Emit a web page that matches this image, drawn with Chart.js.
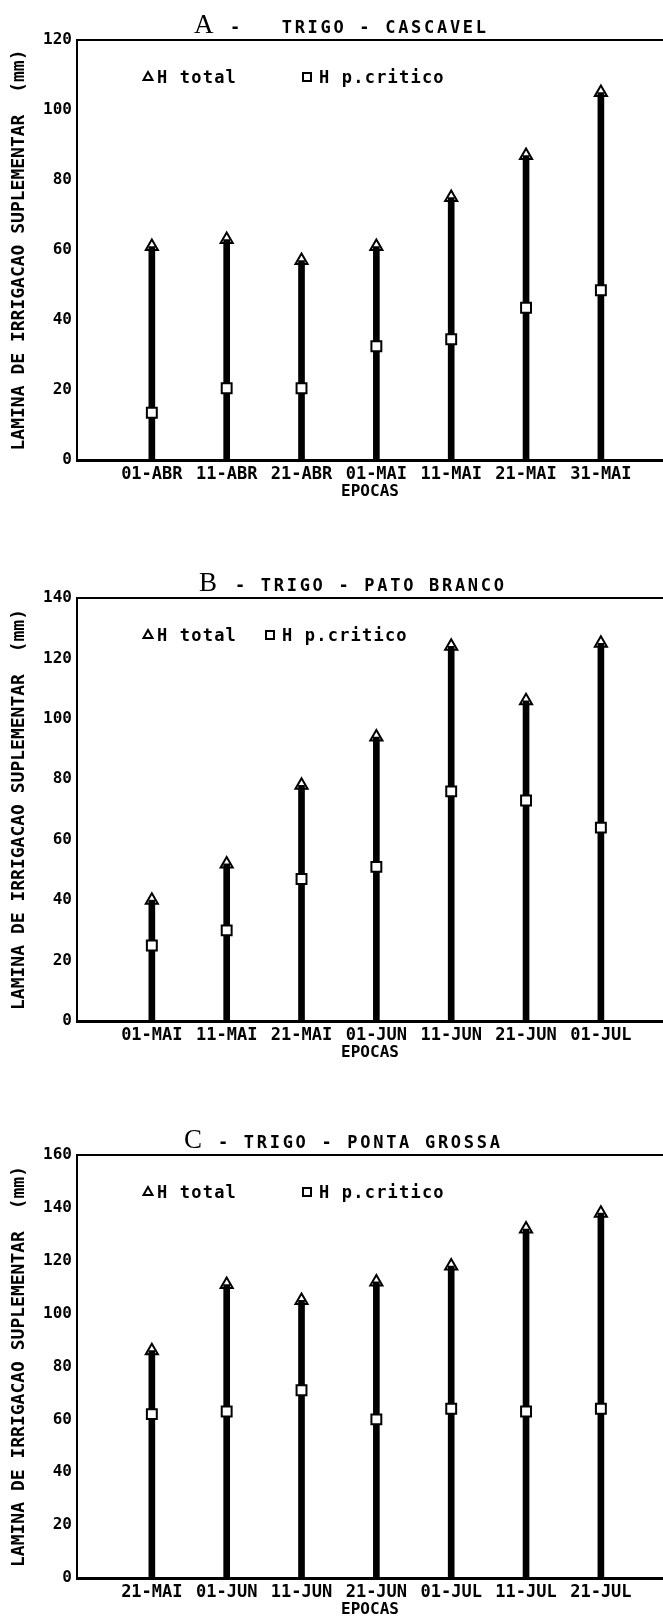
<!DOCTYPE html>
<html>
<head>
<meta charset="utf-8">
<script src="https://cdn.jsdelivr.net/npm/chart.js@4.4.0/dist/chart.umd.min.js"></script>
<style>
  body { margin: 0; background: #fff; }
  .panel { position: absolute; left: 0; width: 663px; }
</style>
</head>
<body>
<div class="panel" style="top:0"><canvas id="chartA" width="663" height="501"></canvas></div>
<div class="panel" style="top:558px"><canvas id="chartB" width="663" height="504"></canvas></div>
<div class="panel" style="top:1115px"><canvas id="chartC" width="663" height="504"></canvas></div>
<script>
// data
const seriesNames = ['H total', 'H p.critico'];

const epocasA = ['01-ABR', '11-ABR', '21-ABR', '01-MAI', '11-MAI', '21-MAI', '31-MAI'];
const totalA = [61, 63, 57, 61, 75, 87, 105];
const criticoA = [13.5, 20.5, 20.5, 32.5, 34.5, 43.5, 48.5];

const epocasB = ['01-MAI', '11-MAI', '21-MAI', '01-JUN', '11-JUN', '21-JUN', '01-JUL'];
const totalB = [40, 52, 78, 94, 124, 106, 125];
const criticoB = [25, 30, 47, 51, 76, 73, 64];

const epocasC = ['21-MAI', '01-JUN', '11-JUN', '21-JUN', '01-JUL', '11-JUL', '21-JUL'];
const totalC = [86, 111, 105, 112, 118, 132, 138];
const criticoC = [62, 63, 71, 60, 64, 63, 64];

const yMaxA = 120, yMaxB = 140, yMaxC = 160;
const yStep = 20;

const MONO = '"DejaVu Sans Mono", monospace';

// title, top frame line and the in-plot legend
const decor = {
    id: 'decor',
    afterDraw(chart, args, o) {
        const { ctx, chartArea: a } = chart;
        ctx.save();
        ctx.strokeStyle = '#000';
        ctx.lineWidth = 2;
        ctx.beginPath();
        ctx.moveTo(a.left, a.top);
        ctx.lineTo(chart.width, a.top);
        ctx.stroke();

        ctx.fillStyle = '#000';
        ctx.textBaseline = 'alphabetic';
        ctx.font = '27px "Liberation Serif", serif';
        ctx.fillText(o.letter, o.letterX, 33);
        ctx.font = 'bold 17px ' + MONO;
        ctx.letterSpacing = '2.7px';
        ctx.fillText(o.rest, o.restX, 33);

        // legend
        const ly = a.top + 37;
        ctx.lineWidth = 2;
        ctx.beginPath();
        ctx.moveTo(148, ly - 5);
        ctx.lineTo(152.5, ly + 3);
        ctx.lineTo(143.5, ly + 3);
        ctx.closePath();
        ctx.stroke();
        ctx.strokeRect(o.sqX - 4, ly - 4, 8, 8);
        ctx.letterSpacing = '1.2px';
        ctx.fillText(seriesNames[0], 157, ly + 6);
        ctx.fillText(seriesNames[1], o.sqX + 12, ly + 6);
        ctx.restore();
    }
};

function makeChart(id, labels, total, critico, yMax, deco) {
    const pts = arr => arr.map((v, i) => ({ x: i + 1, y: v }));
    return new Chart(document.getElementById(id), {
        type: 'bar',
        data: {
            datasets: [
                {
                    type: 'scatter',
                    label: seriesNames[1],
                    data: pts(critico),
                    pointStyle: 'rect',
                    pointRadius: 7,
                    pointBorderWidth: 2,
                    borderColor: '#000',
                    backgroundColor: '#fff',
                    order: 0
                },
                {
                    type: 'scatter',
                    label: seriesNames[0],
                    data: pts(total),
                    pointStyle: 'triangle',
                    pointRadius: 7,
                    pointBorderWidth: 2,
                    borderColor: '#000',
                    backgroundColor: 'rgba(0,0,0,0)',
                    order: 1
                },
                {
                    type: 'bar',
                    label: seriesNames[0],
                    data: pts(total),
                    backgroundColor: '#000',
                    barThickness: 6,
                    order: 2
                }
            ]
        },
        options: {
            responsive: false,
            animation: false,
            layout: { autoPadding: false, padding: { top: 40, left: 0, right: 0, bottom: 0 } },
            plugins: {
                legend: { display: false },
                tooltip: { enabled: false },
                decor: deco
            },
            scales: {
                x: {
                    type: 'linear',
                    offset: false,
                    min: 0,
                    max: 7.83,
                    afterBuildTicks: s => { s.ticks = labels.map((_, i) => ({ value: i + 1 })); },
                    afterFit: s => { s.height = 41; },
                    grid: { display: false, drawTicks: false },
                    border: { display: true, color: '#000', width: 3 },
                    ticks: {
                        autoSkip: false,
                        maxRotation: 0,
                        padding: 4,
                        color: '#000',
                        font: { family: MONO, size: 17, weight: 'bold' },
                        callback: (v, i) => labels[i]
                    },
                    title: {
                        display: true,
                        text: 'EPOCAS',
                        color: '#000',
                        padding: { top: 0, bottom: 0 },
                        font: { family: MONO, size: 16, weight: 'bold' }
                    }
                },
                y: {
                    min: 0,
                    max: yMax,
                    afterFit: s => { s.width = 77; },
                    grid: { display: false, drawTicks: false },
                    border: { display: true, color: '#000', width: 2 },
                    ticks: {
                        stepSize: yStep,
                        padding: 5,
                        color: '#000',
                        font: { family: MONO, size: 16, weight: 'bold' }
                    },
                    title: {
                        display: true,
                        text: 'LAMINA DE IRRIGACAO SUPLEMENTAR  (mm)',
                        color: '#000',
                        padding: { top: 9, bottom: 0 },
                        font: { family: MONO, size: 18, weight: 'bold' }
                    }
                }
            }
        },
        plugins: [decor]
    });
}

makeChart('chartA', epocasA, totalA, criticoA, yMaxA,
    { letter: 'A', letterX: 194, rest: '-   TRIGO - CASCAVEL', restX: 230, sqX: 307 });
makeChart('chartB', epocasB, totalB, criticoB, yMaxB,
    { letter: 'B', letterX: 199, rest: '- TRIGO - PATO BRANCO', restX: 235, sqX: 270 });
makeChart('chartC', epocasC, totalC, criticoC, yMaxC,
    { letter: 'C', letterX: 184, rest: '- TRIGO - PONTA GROSSA', restX: 218, sqX: 307 });
</script>
</body>
</html>
